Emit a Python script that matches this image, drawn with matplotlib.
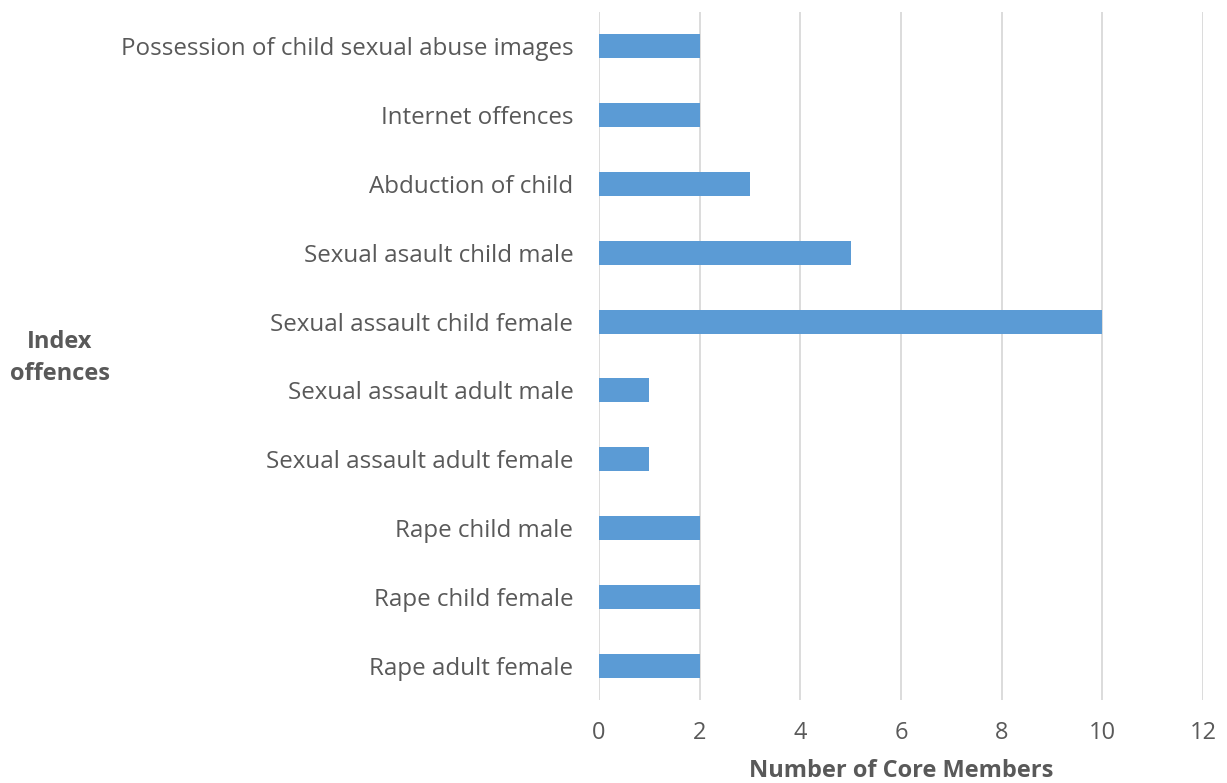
import matplotlib
matplotlib.use("Agg")
import matplotlib.pyplot as plt

categories = [
    "Rape adult female",
    "Rape child female",
    "Rape child male",
    "Sexual assault adult female",
    "Sexual assault adult male",
    "Sexual assault child female",
    "Sexual asault child male",
    "Abduction of child",
    "Internet offences",
    "Possession of child sexual abuse images",
]
values = [2, 2, 2, 1, 1, 10, 5, 3, 2, 2]
xticks = [0, 2, 4, 6, 8, 10, 12]

plt.rcParams['font.family'] = ['Open Sans', 'DejaVu Sans']
text_color = "#595959"
fs = 17

fig = plt.figure(figsize=(12.27, 7.83), dpi=100)
ax = fig.add_axes([599/1227, 1 - 700/783, (1203-599)/1227, (700-12)/783])

ax.barh(range(len(categories)), values, height=0.35, color="#5B9BD5", zorder=3)
ax.set_xlim(0, 12)
ax.set_ylim(-0.5, len(categories) - 0.5)
ax.set_xticks(xticks)
ax.set_xticklabels([str(t) for t in xticks])
ax.set_yticks(range(len(categories)))
ax.set_yticklabels(categories)
ax.xaxis.grid(True, color="#D9D9D9", linewidth=1.3, zorder=0)
ax.set_axisbelow(True)
for s in ax.spines.values():
    s.set_visible(False)
ax.tick_params(axis='x', length=0, labelsize=fs, colors=text_color, pad=15)
ax.tick_params(axis='y', length=0, labelsize=17.4, colors=text_color, pad=18.5)

fig.text(901/1227, 1 - 771/783, "Number of Core Members", ha='center', va='center',
         fontsize=fs, fontweight='bold', color=text_color)
fig.text(60/1227, 1 - 358/783, "Index\noffences", ha='center', va='center', fontsize=fs,
         fontweight='bold', color=text_color, linespacing=1.45)

fig.savefig("out.png", dpi=100)
